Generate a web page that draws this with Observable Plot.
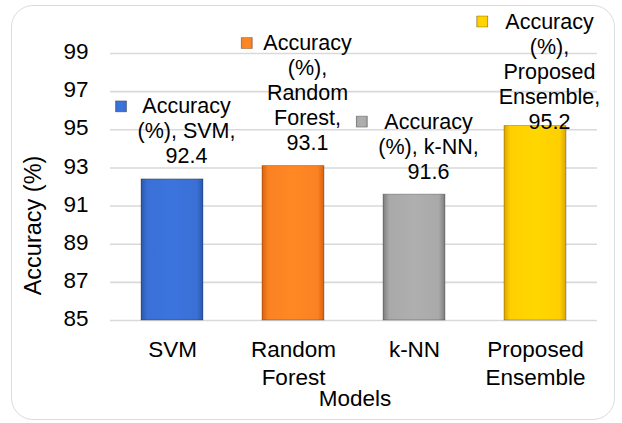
<!DOCTYPE html>
<html><head><meta charset="utf-8">
<script src="https://cdn.jsdelivr.net/npm/d3@7"></script>
<script src="https://cdn.jsdelivr.net/npm/@observablehq/plot@0.6"></script>
<style>
body{margin:0;background:#fff;}
#wrap{position:relative;width:622px;height:423px;font-family:"Liberation Sans",Arial,sans-serif;}
#border{position:absolute;left:11px;top:5px;width:604px;height:415px;border:1.5px solid #dcdcdc;border-radius:22px;box-sizing:border-box;pointer-events:none;}
#wrap svg{position:absolute;left:0;top:0;}
</style></head><body><div id="wrap"><div id="border"></div></div>
<script>
// ---- data ----
const models = ["SVM", "Random Forest", "k-NN", "Proposed Ensemble"];
const modelTickLabels = ["SVM", "Random\nForest", "k-NN", "Proposed\nEnsemble"];
const accuracy = [92.4, 93.1, 91.6, 95.2];
const dataLabelLines = [
  ["Accuracy", "(%), SVM,", "92.4"],
  ["Accuracy", "(%),", "Random", "Forest,", "93.1"],
  ["Accuracy", "(%), k-NN,", "91.6"],
  ["Accuracy", "(%),", "Proposed", "Ensemble,", "95.2"]
];
const yTicks = [85, 87, 89, 91, 93, 95, 97, 99];
const yDomain = [85, 99];
const yTitle = "Accuracy (%)";
const xTitle = "Models";
const barColors = [
  ["#2a57ad", "#3a70d6"],
  ["#d9620d", "#fa8223"],
  ["#7d7d7d", "#a9a9a9"],
  ["#dba500", "#ffcf00"]
];

// ---- layout ----
const W = 622, H = 423;
const M = {top: 53, bottom: 103, left: 110, right: 25};
const FONT = '"Liberation Sans", Arial, sans-serif';
const LBL = 21.5, LBL_LH = 25;
const AX = 22.5;
const grads = models.map((m, i) => `url(#grad${i})`);

const rows = models.map((m, i) => ({model: m, acc: accuracy[i], lines: dataLabelLines[i], tick: modelTickLabels[i]}));

const hasAxisMarks = typeof Plot.axisY === "function";
const base = {
  width: W, height: H,
  marginTop: M.top, marginBottom: M.bottom, marginLeft: M.left, marginRight: M.right,
  x: {domain: models, paddingInner: 0.49, paddingOuter: 0.245, axis: null},
  y: hasAxisMarks ? {domain: yDomain} : {domain: yDomain, ticks: yTicks, tickSize: 0, tickPadding: 22, label: null, tickFormat: d => String(d)},
  color: {domain: models, range: grads}
};

// probe to get the y scale in pixels
const probe = Plot.plot({...base, y: {domain: yDomain, axis: null}, marks: [Plot.barY(rows, {x: "model", y: "acc", fill: "model"})]});
const ys = probe.scale("y");
const py = v => ys.apply(v);
const inv = p => ys.invert(p);

// measure label widths
const ctx = document.createElement("canvas").getContext("2d");
ctx.font = `${LBL}px ${FONT}`;
const topLimit = 28; // first baseline may not go above this
rows.forEach(r => {
  const n = r.lines.length;
  const last = Math.max(py(r.acc) - 16, topLimit + (n - 1) * LBL_LH);
  r.labelY = inv(last);
  r.markerY = inv(last - (n - 1) * LBL_LH - 7);
  r.wide = Math.max(...r.lines.map(s => ctx.measureText(s).width));
});

const markerMarks = rows.map(r => Plot.dot([r], {
  x: "model", y: "markerY", symbol: "square", r: 6.2, fill: "model",
  stroke: "#00000055", strokeWidth: 0.8,
  dx: 3 - (22 + r.wide) / 2 + 5.5
}));

const yAxisMarks = hasAxisMarks
  ? [Plot.axisY(yTicks, {tickSize: 0, tickPadding: 22, label: null, fontSize: AX, tickFormat: d => String(d), dy: -1.5})]
  : [];

const plot = Plot.plot({
  ...base,
  style: {fontFamily: FONT, fontSize: AX + "px", color: "#000", background: "transparent"},
  marks: [
    Plot.ruleY(yTicks, {stroke: "#d9d9d9", strokeWidth: 1.6}),
    ...yAxisMarks,
    Plot.barY(rows, {x: "model", y1: yDomain[0], y2: "acc", fill: "model", stroke: "#00000040", strokeWidth: 1}),
    Plot.text(rows, {x: "model", y: "labelY", text: d => d.lines.join("\n"), lineAnchor: "bottom",
      lineHeight: LBL_LH / LBL, fontSize: LBL, dx: 14, fill: "#000"}),
    ...markerMarks,
    Plot.text(rows, {x: "model", frameAnchor: "bottom", text: "tick", lineAnchor: "top",
      lineHeight: 28 / AX, fontSize: AX, dy: 17, fill: "#000"}),
    Plot.text([xTitle], {frameAnchor: "bottom", text: d => d, lineAnchor: "bottom", fontSize: AX, dy: 85, dx: 1, fill: "#000"}),
    Plot.text([yTitle], {frameAnchor: "left", textAnchor: "middle", text: d => d, rotate: -90, fontSize: 23.5, dx: -77, dy: 38.5, fill: "#000"})
  ]
});

// gradient definitions for bevel-like bars
const svg = d3.select(plot);
const defs = svg.insert("defs", ":first-child");
barColors.forEach(([edge, mid], i) => {
  const g = defs.append("linearGradient").attr("id", `grad${i}`).attr("x1", 0).attr("x2", 1).attr("y1", 0).attr("y2", 0);
  [[0, edge], [0.1, mid], [0.5, d3.color(mid).brighter(0.1).formatHex()], [0.9, mid], [1, edge]].forEach(([o, c]) =>
    g.append("stop").attr("offset", o).attr("stop-color", c));
});

document.getElementById("wrap").appendChild(plot);
</script>
</body></html>
